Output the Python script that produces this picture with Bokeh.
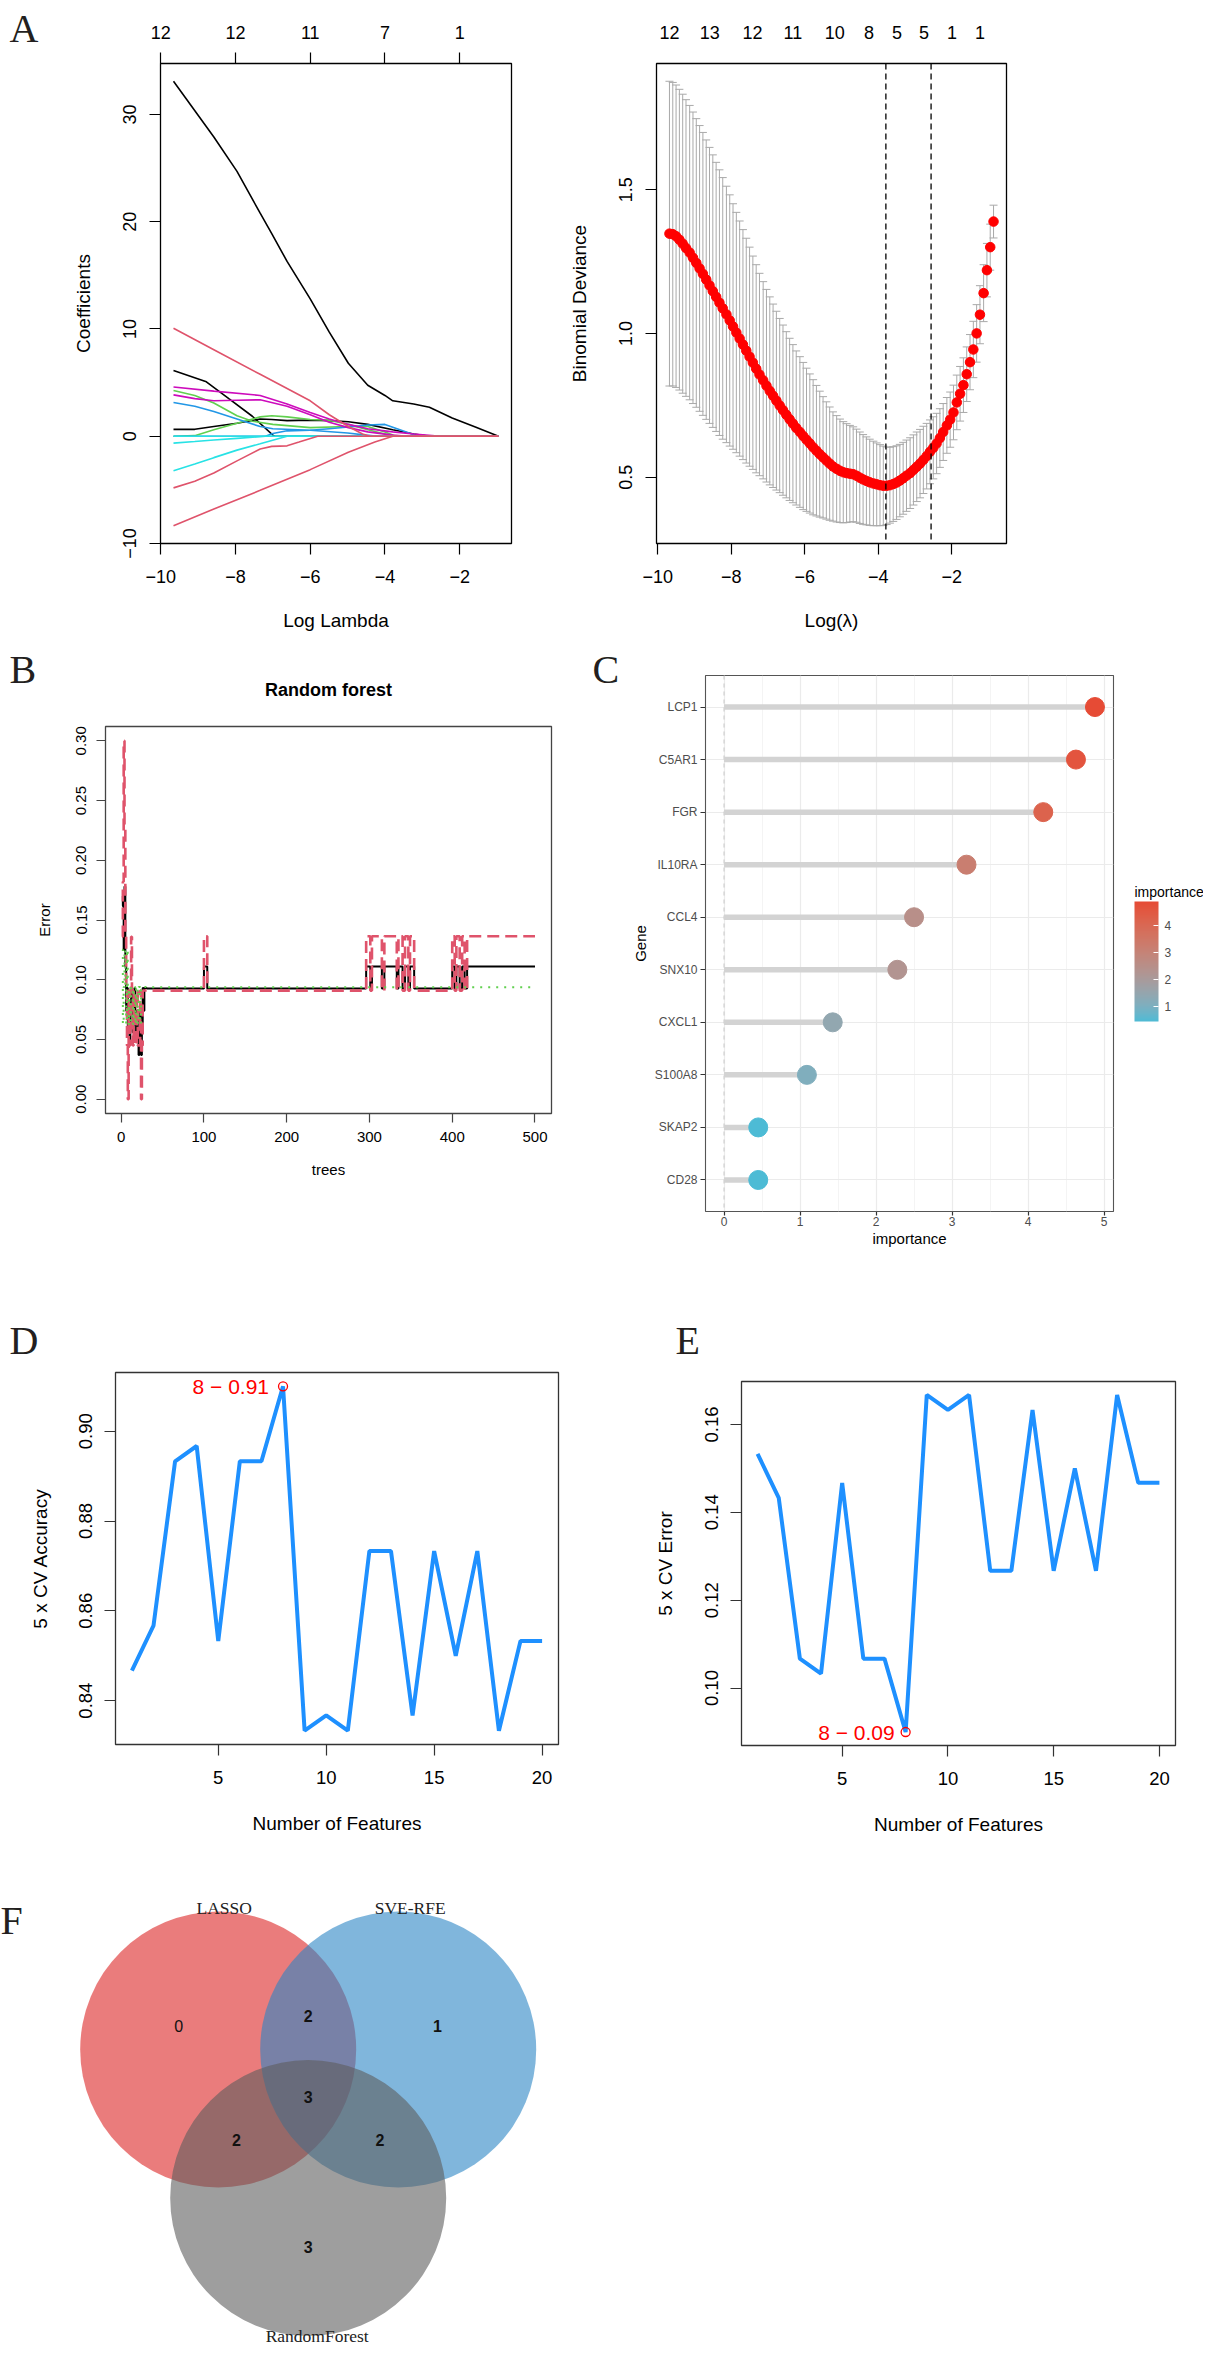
import numpy as np
from bokeh.plotting import figure
from bokeh.models import (Range1d, LinearAxis, FixedTicker, Whisker, TeeHead,
                          ColumnDataSource, ColorBar, LinearColorMapper, Span,
                          PrintfTickFormatter)
from bokeh.layouts import row, column
from bokeh.embed import file_html
from bokeh.resources import INLINE
from bokeh.core.properties import value

SANS = "Liberation Sans"
SERIF = "Liberation Serif"

# ====================== DATA ======================
# ---- A (left): LASSO coefficient paths (log lambda, coefficient) ----
coef_top_ticks = [-10, -8, -6, -4, -2]
coef_top_labels = ["12", "12", "11", "7", "1"]

pK1_x = [-9.66, -8.58, -7.96, -7.34, -7.03, -6.62, -6.00, -5.49, -4.98, -4.46, -4.00, -3.79, -3.23, -2.81, -2.20, -1.58, -0.96]
pK1_y = [33.1, 27.9, 24.7, 20.8, 18.9, 16.3, 12.8, 9.7, 6.8, 4.75, 3.8, 3.3, 3.0, 2.7, 1.7, 0.85, 0.0]
pK2_x = [-9.66, -8.78, -8.17, -7.55, -7.00, -6.95, -0.96]
pK2_y = [6.13, 5.07, 3.47, 1.86, 0.1, 0.0, 0.0]
pK3_x = [-9.66, -9.09, -8.58, -7.96, -7.34, -7.03, -6.62, -6.00, -5.49, -4.98, -4.46, -3.79, -3.23, -2.80, -0.96]
pK3_y = [0.64, 0.64, 0.9, 1.2, 1.6, 1.55, 1.45, 1.5, 1.45, 1.35, 1.1, 0.6, 0.2, 0.0, 0.0]
pG1_x = [-9.66, -9.09, -8.58, -7.96, -7.55, -7.00, -6.00, -4.98, -4.46, -4.00, -3.70, -0.96]
pG1_y = [4.27, 3.8, 3.1, 1.9, 1.4, 1.1, 0.8, 0.9, 0.9, 0.4, 0.0, 0.0]
pG2_x = [-9.66, -9.09, -8.58, -7.96, -7.34, -7.03, -6.62, -6.00, -5.49, -4.98, -4.46, -4.00, -3.80, -0.96]
pG2_y = [0.0, 0.05, 0.6, 1.2, 1.8, 1.9, 1.8, 1.55, 1.5, 1.1, 0.6, 0.2, 0.0, 0.0]
pB1_x = [-9.66, -9.09, -8.58, -7.96, -7.34, -7.00, -6.00, -5.00, -4.50, -4.20, -0.96]
pB1_y = [3.14, 2.8, 2.3, 1.6, 0.9, 0.7, 0.55, 0.3, 0.1, 0.0, 0.0]
pB2_x = [-9.66, -7.20, -7.00, -6.62, -6.00, -5.49, -4.98, -4.46, -4.00, -3.60, -3.20, -3.00, -0.96]
pB2_y = [0.0, 0.0, 0.25, 0.5, 0.55, 0.7, 0.85, 1.05, 1.1, 0.6, 0.1, 0.0, 0.0]
pM1_x = [-9.66, -8.58, -7.34, -6.62, -6.00, -5.49, -4.98, -4.46, -3.79, -3.23, -2.50, -0.96]
pM1_y = [4.59, 4.2, 3.8, 3.0, 2.2, 1.6, 1.1, 0.7, 0.4, 0.2, 0.0, 0.0]
pM2_x = [-9.66, -9.09, -8.58, -7.96, -7.34, -6.62, -6.00, -5.49, -4.98, -4.46, -3.79, -3.40, -0.96]
pM2_y = [3.85, 3.5, 3.3, 3.35, 3.4, 2.8, 2.0, 1.3, 0.8, 0.4, 0.1, 0.0, 0.0]
pC1_x = [-9.66, -9.09, -8.58, -7.96, -7.34, -7.20, -0.96]
pC1_y = [-0.65, -0.5, -0.35, -0.2, -0.05, 0.0, 0.0]
pC2_x = [-9.66, -9.09, -8.58, -7.96, -7.34, -6.62, -0.96]
pC2_y = [-3.22, -2.6, -2.0, -1.3, -0.71, 0.0, 0.0]
pC3_x = [-9.66, -0.96]
pC3_y = [0.0, 0.0]
pR1_x = [-9.66, -8.58, -7.34, -6.00, -5.49, -4.98, -4.60, -4.40, -0.96]
pR1_y = [10.06, 8.06, 5.77, 3.3, 2.0, 0.9, 0.2, 0.0, 0.0]
pR2_x = [-9.66, -9.09, -8.58, -7.96, -7.34, -7.03, -6.62, -6.30, -5.80, -0.96]
pR2_y = [-4.82, -4.2, -3.44, -2.3, -1.2, -0.95, -0.9, -0.55, 0.0, 0.0]
pR3_x = [-9.66, -8.58, -7.34, -6.00, -4.98, -4.27, -3.79, -0.96]
pR3_y = [-8.35, -6.8, -5.05, -3.12, -1.5, -0.55, 0.0, 0.0]

# ---- A (right): cross-validated binomial deviance ----
cv_lam = [-9.68, -9.59, -9.50, -9.41, -9.32, -9.23, -9.13, -9.04, -8.95, -8.86,
          -8.77, -8.68, -8.59, -8.50, -8.41, -8.32, -8.23, -8.13, -8.04, -7.95,
          -7.86, -7.77, -7.68, -7.59, -7.50, -7.41, -7.32, -7.23, -7.13, -7.04,
          -6.95, -6.86, -6.77, -6.68, -6.59, -6.50, -6.41, -6.32, -6.23, -6.13,
          -6.04, -5.95, -5.86, -5.77, -5.68, -5.59, -5.50, -5.41, -5.32, -5.23,
          -5.13, -5.04, -4.95, -4.86, -4.77, -4.68, -4.59, -4.50, -4.41, -4.32,
          -4.23, -4.13, -4.04, -3.95, -3.86, -3.77, -3.68, -3.59, -3.50, -3.41,
          -3.32, -3.23, -3.13, -3.04, -2.95, -2.86, -2.77, -2.68, -2.59, -2.50,
          -2.41, -2.32, -2.23, -2.13, -2.04, -1.95, -1.86, -1.77, -1.68, -1.59,
          -1.50, -1.41, -1.32, -1.23, -1.13, -1.04, -0.95, -0.86]
cv_mean = [1.347, 1.345, 1.338, 1.326, 1.312, 1.297, 1.281, 1.263, 1.245, 1.226,
           1.207, 1.187, 1.167, 1.147, 1.127, 1.107, 1.087, 1.066, 1.045, 1.024,
           1.003, 0.982, 0.961, 0.940, 0.919, 0.898, 0.877, 0.857, 0.837, 0.818,
           0.800, 0.783, 0.766, 0.749, 0.733, 0.717, 0.701, 0.686, 0.671, 0.657,
           0.643, 0.630, 0.617, 0.604, 0.592, 0.580, 0.569, 0.558, 0.547, 0.537,
           0.529, 0.522, 0.517, 0.514, 0.512, 0.510, 0.505, 0.498, 0.492, 0.487,
           0.482, 0.478, 0.475, 0.472, 0.470, 0.470, 0.472, 0.476, 0.481, 0.488,
           0.496, 0.505, 0.514, 0.525, 0.536, 0.547, 0.560, 0.573, 0.588, 0.602,
           0.617, 0.636, 0.657, 0.680, 0.700, 0.725, 0.760, 0.790, 0.820, 0.858,
           0.900, 0.944, 1.000, 1.065, 1.140, 1.220, 1.300, 1.389]
cv_sd = [0.530, 0.528, 0.526, 0.523, 0.520, 0.516, 0.512, 0.507, 0.502, 0.497,
         0.492, 0.486, 0.480, 0.474, 0.468, 0.462, 0.455, 0.446, 0.437, 0.427,
         0.418, 0.409, 0.400, 0.391, 0.381, 0.371, 0.362, 0.352, 0.343, 0.335,
         0.327, 0.319, 0.311, 0.303, 0.296, 0.289, 0.282, 0.275, 0.268, 0.262,
         0.256, 0.249, 0.242, 0.235, 0.227, 0.219, 0.211, 0.204, 0.197, 0.190,
         0.185, 0.180, 0.176, 0.172, 0.168, 0.165, 0.162, 0.159, 0.156, 0.153,
         0.150, 0.147, 0.144, 0.141, 0.138, 0.135, 0.132, 0.130, 0.128, 0.126,
         0.125, 0.124, 0.123, 0.122, 0.121, 0.119, 0.117, 0.114, 0.111, 0.108,
         0.105, 0.102, 0.099, 0.097, 0.096, 0.095, 0.095, 0.095, 0.095, 0.095,
         0.096, 0.098, 0.100, 0.101, 0.099, 0.093, 0.080, 0.057]
cv_top_pos = [-9.68, -8.58, -7.42, -6.32, -5.18, -4.25, -3.49, -2.75, -1.99, -1.23]
cv_top_labels = ["12", "13", "12", "11", "10", "8", "5", "5", "1", "1"]
lambda_min_log = -3.79
lambda_1se_log = -2.56

# ---- B: random forest error rates (step series) ----
rf_early_trees = list(range(1, 31))
rf_oob_early = [0.162, 0.170, 0.125, 0.178, 0.111, 0.074, 0.093, 0.056, 0.065, 0.046,
                0.074, 0.093, 0.074, 0.056, 0.074, 0.093, 0.074, 0.056, 0.074, 0.056,
                0.037, 0.056, 0.074, 0.037, 0.056, 0.093, 0.074, 0.093, 0.093, 0.093]
rf_red_early = [0.136, 0.182, 0.300, 0.227, 0.136, 0.091, 0.045, 0.000, 0.091, 0.045,
                0.091, 0.136, 0.091, 0.045, 0.091, 0.091, 0.045, 0.045, 0.091, 0.045,
                0.045, 0.045, 0.091, 0.000, 0.045, 0.091, 0.091, 0.091, 0.091, 0.091]
rf_green_early = [0.125, 0.063, 0.094, 0.125, 0.094, 0.063, 0.125, 0.094, 0.063, 0.094,
                  0.063, 0.094, 0.094, 0.063, 0.094, 0.094, 0.063, 0.094, 0.094, 0.063,
                  0.094, 0.094, 0.063, 0.094, 0.094, 0.094, 0.094, 0.094, 0.094, 0.094]
rf_late_trees = [31, 100, 104, 296, 301, 303, 315, 318, 333, 335, 340, 343, 347, 349, 354,
                 400, 403, 405, 409, 412, 415, 418, 500]
rf_oob_late = [0.0926, 0.1111, 0.0926, 0.1111, 0.0926, 0.1111, 0.0926, 0.1111, 0.0926, 0.1111,
               0.0926, 0.1111, 0.0926, 0.1111, 0.0926, 0.1111, 0.0926, 0.1111, 0.0926, 0.1111,
               0.0926, 0.1111, 0.1111]
rf_red_late = [0.0909, 0.1364, 0.0909, 0.1364, 0.0909, 0.1364, 0.0909, 0.1364, 0.0909, 0.1364,
               0.0909, 0.1364, 0.0909, 0.1364, 0.0909, 0.1364, 0.0909, 0.1364, 0.0909, 0.1364,
               0.0909, 0.1364, 0.1364]
rf_green_late_trees = [31, 500]
rf_green_late = [0.0938, 0.0938]

# ---- C: gene importance ----
genes = ["LCP1", "C5AR1", "FGR", "IL10RA", "CCL4", "SNX10", "CXCL1", "S100A8", "SKAP2", "CD28"]
importance = [4.88, 4.63, 4.20, 3.19, 2.50, 2.28, 1.43, 1.09, 0.45, 0.45]

# ---- D / E: SVM-RFE cross-validation ----
n_features = list(range(1, 21))
cv_accuracy = [0.8467, 0.8567, 0.8933, 0.8967, 0.8533, 0.8933, 0.8933, 0.9100, 0.8333, 0.8367,
               0.8333, 0.8733, 0.8733, 0.8367, 0.8733, 0.8500, 0.8733, 0.8333, 0.8533, 0.8533]
cv_error = [0.1533, 0.1433, 0.1067, 0.1033, 0.1467, 0.1067, 0.1067, 0.0900, 0.1667, 0.1633,
            0.1667, 0.1267, 0.1267, 0.1633, 0.1267, 0.1500, 0.1267, 0.1667, 0.1467, 0.1467]

# ---- F: Venn ----
venn_sets = ["LASSO", "SVE-RFE", "RandomForest"]
venn_regions = [(1, 0, 0), (0, 1, 0), (0, 0, 1), (1, 1, 0), (1, 0, 1), (0, 1, 1), (1, 1, 1)]
venn_counts = [0, 1, 3, 2, 2, 2, 3]
venn_colors = ["#DC2525", "#2B85C5", "#5D5D5D"]


# ====================== HELPERS ======================
def rpad(lo, hi, f=0.04):
    d = (hi - lo) * f
    return lo - d, hi + d


def base_fig(w, h, bl, br, bt, bb, xr, yr, **kw):
    p = figure(width=w, height=h, frame_width=w - bl - br, frame_height=h - bt - bb,
               min_border_left=bl, min_border_right=br, min_border_top=bt, min_border_bottom=bb,
               x_range=xr, y_range=yr, output_backend="svg", toolbar_location=None, **kw)
    p.background_fill_color = "white"
    p.border_fill_color = "white"
    return p


def blank_fig(w, h):
    s = figure(width=w, height=h, frame_width=w, frame_height=h, min_border=0,
               x_range=Range1d(0, w), y_range=Range1d(0, h),
               x_axis_location=None, y_axis_location=None,
               output_backend="svg", toolbar_location=None)
    s.grid.visible = False
    s.outline_line_color = None
    s.background_fill_color = "white"
    s.border_fill_color = "white"
    return s


def iso(p):
    # wrap a figure on its own so that layouts do not align its borders with neighbours
    return column(p)


def put_letter(s, txt, x, y, baseline="alphabetic"):
    s.text(x=[x], y=[y], text=[txt], text_font=value(SERIF), text_font_size="40px",
           text_color="#231F20", text_baseline=baseline, text_align="left")


def style_axis(ax, tick_fs, lab_fs, tick_len, st, lst, tick_color="black", lab_color="black"):
    ax.axis_line_color = None
    ax.major_tick_out = tick_len
    ax.major_tick_in = 0
    ax.minor_tick_line_color = None
    ax.major_tick_line_color = tick_color
    ax.major_tick_line_width = 1.2
    ax.major_label_text_font = SANS
    ax.major_label_text_font_size = tick_fs
    ax.major_label_text_color = lab_color
    ax.major_label_standoff = st
    ax.axis_label_text_font = SANS
    ax.axis_label_text_font_size = lab_fs
    ax.axis_label_text_font_style = "normal"
    ax.axis_label_text_color = "black"
    ax.axis_label_standoff = lst


def style_r(p, tick_fs, lab_fs, tick_len, xs, xls, ys, yls, box="black"):
    p.grid.visible = False
    p.outline_line_color = box
    p.outline_line_width = 1.3
    style_axis(p.below[0], tick_fs, lab_fs, tick_len, xs, xls, tick_color=box)
    style_axis(p.left[0], tick_fs, lab_fs, tick_len, ys, yls, tick_color=box)
    p.left[0].major_label_orientation = "vertical"


def minus(v):
    return ("−" + str(abs(v))) if v < 0 else str(v)


# ====================== ROW 1: A ======================
stripA = blank_fig(42, 642)
put_letter(stripA, "A", 9, 614)

paths = [(pK1_x, pK1_y, "#000000"), (pK2_x, pK2_y, "#000000"), (pK3_x, pK3_y, "#000000"),
         (pG1_x, pG1_y, "#61D04F"), (pG2_x, pG2_y, "#61D04F"),
         (pB1_x, pB1_y, "#2297E6"), (pB2_x, pB2_y, "#2297E6"),
         (pM1_x, pM1_y, "#CD0BBC"), (pM2_x, pM2_y, "#CD0BBC"),
         (pC1_x, pC1_y, "#28E2E5"), (pC2_x, pC2_y, "#28E2E5"), (pC3_x, pC3_y, "#28E2E5"),
         (pR1_x, pR1_y, "#DF536B"), (pR2_x, pR2_y, "#DF536B"), (pR3_x, pR3_y, "#DF536B")]
all_px = [v for px, _, _ in paths for v in px]
all_py = [v for _, py, _ in paths for v in py]
pa1 = base_fig(490, 642, 118, 21, 63, 99,
               Range1d(*rpad(min(all_px), max(all_px))), Range1d(*rpad(min(all_py), max(all_py))))
for px, py, col in paths:
    pa1.line(px, py, line_color=col, line_width=1.6)
pa1.xaxis.axis_label = "Log Lambda"
pa1.yaxis.axis_label = "Coefficients"
style_r(pa1, "18px", "19px", 11, 15, 24, 13, 27)
pa1.below[0].ticker = FixedTicker(ticks=coef_top_ticks)
pa1.below[0].major_label_overrides = {t: minus(t) for t in coef_top_ticks}
yt = [-10, 0, 10, 20, 30]
pa1.left[0].ticker = FixedTicker(ticks=yt)
pa1.left[0].major_label_overrides = {t: minus(t) for t in yt}
top1 = LinearAxis(ticker=FixedTicker(ticks=coef_top_ticks),
                  major_label_overrides={t: l for t, l in zip(coef_top_ticks, coef_top_labels)})
style_axis(top1, "18px", "19px", 11, 14, 0)
pa1.add_layout(top1, "above")

upper = [m + s for m, s in zip(cv_mean, cv_sd)]
lower = [m - s for m, s in zip(cv_mean, cv_sd)]
src_cv = ColumnDataSource(dict(x=cv_lam, mean=cv_mean, upper=upper, lower=lower))
pa2 = base_fig(667, 642, 124, 193, 63, 99,
               Range1d(*rpad(min(cv_lam), max(cv_lam))), Range1d(*rpad(min(lower), max(upper))))
wh = Whisker(source=src_cv, base="x", upper="upper", lower="lower", dimension="height",
             line_color="#A9A9A9", line_width=1, level="underlay",
             upper_head=TeeHead(size=8, line_color="#A9A9A9", line_width=1),
             lower_head=TeeHead(size=8, line_color="#A9A9A9", line_width=1))
pa2.add_layout(wh)
pa2.scatter("x", "mean", source=src_cv, size=9.5, color="#FF0000")
for loc in (lambda_min_log, lambda_1se_log):
    pa2.add_layout(Span(location=loc, dimension="height", line_color="black",
                        line_dash="6 4", line_width=1.3))
pa2.xaxis.axis_label = "Log(λ)"
pa2.yaxis.axis_label = "Binomial Deviance"
style_r(pa2, "18px", "19px", 11, 15, 24, 13, 27)
pa2.below[0].ticker = FixedTicker(ticks=coef_top_ticks)
pa2.below[0].major_label_overrides = {t: minus(t) for t in coef_top_ticks}
pa2.left[0].ticker = FixedTicker(ticks=[0.5, 1.0, 1.5])
pa2.left[0].formatter = PrintfTickFormatter(format="%.1f")
top2 = LinearAxis(ticker=FixedTicker(ticks=cv_top_pos),
                  major_label_overrides={t: l for t, l in zip(cv_top_pos, cv_top_labels)})
style_axis(top2, "18px", "19px", 0, 25, 0)
top2.major_tick_line_color = None
pa2.add_layout(top2, "above")

# ====================== ROW 2: B, C ======================
stripB = blank_fig(582, 65)
put_letter(stripB, "B", 9, 38)
stripB.text(x=[328], y=[18], text=["Random forest"], text_font=value(SANS),
            text_font_size="18px", text_font_style="bold", text_color="black",
            text_align="center", text_baseline="middle")

oob_x = rf_early_trees + rf_late_trees
oob_y = rf_oob_early + rf_oob_late
red_x = rf_early_trees + rf_late_trees
red_y = rf_red_early + rf_red_late
grn_x = rf_early_trees + rf_green_late_trees
grn_y = rf_green_early + rf_green_late
pb = base_fig(582, 585, 105, 31, 19, 179,
              Range1d(*rpad(1, 500)), Range1d(*rpad(0, max(red_y))))
pb.step(oob_x, oob_y, mode="after", line_color="black", line_width=2)
pb.step(red_x, red_y, mode="after", line_color="#DF536B", line_width=2.6, line_dash="12 6")
pb.step(grn_x, grn_y, mode="after", line_color="#61D04F", line_width=2, line_dash="2 6")
pb.xaxis.axis_label = "trees"
pb.yaxis.axis_label = "Error"
style_r(pb, "15px", "15px", 9, 9, 16, 10, 21, box="#444444")
pb.below[0].ticker = FixedTicker(ticks=[0, 100, 200, 300, 400, 500])
pb.below[0].formatter = PrintfTickFormatter(format="%d")
pb.left[0].ticker = FixedTicker(ticks=[0.0, 0.05, 0.10, 0.15, 0.20, 0.25, 0.30])
pb.left[0].formatter = PrintfTickFormatter(format="%.2f")


def _to_lab(h):
    rgb = [int(h[i:i + 2], 16) / 255 for i in (1, 3, 5)]
    lin = [c / 12.92 if c <= 0.04045 else ((c + 0.055) / 1.055) ** 2.4 for c in rgb]
    X = (0.4124 * lin[0] + 0.3576 * lin[1] + 0.1805 * lin[2]) / 0.95047
    Y = (0.2126 * lin[0] + 0.7152 * lin[1] + 0.0722 * lin[2])
    Z = (0.0193 * lin[0] + 0.1192 * lin[1] + 0.9505 * lin[2]) / 1.08883
    f = lambda t: t ** (1 / 3) if t > 0.008856 else 7.787 * t + 16 / 116
    fx, fy, fz = f(X), f(Y), f(Z)
    return 116 * fy - 16, 500 * (fx - fy), 200 * (fy - fz)


def _from_lab(L, a, b):
    fy = (L + 16) / 116
    fx = fy + a / 500
    fz = fy - b / 200
    finv = lambda t: t ** 3 if t ** 3 > 0.008856 else (t - 16 / 116) / 7.787
    X, Y, Z = finv(fx) * 0.95047, finv(fy), finv(fz) * 1.08883
    lin = [3.2406 * X - 1.5372 * Y - 0.4986 * Z,
           -0.9689 * X + 1.8758 * Y + 0.0415 * Z,
           0.0557 * X - 0.2040 * Y + 1.0570 * Z]
    out = []
    for c in lin:
        c = max(0.0, c)
        c = 12.92 * c if c <= 0.0031308 else 1.055 * c ** (1 / 2.4) - 0.055
        out.append(int(min(255, max(0, round(c * 255)))))
    return "#%02x%02x%02x" % tuple(out)


lo_lab, hi_lab = _to_lab("#4DBBD5"), _to_lab("#E64B35")
palette = [_from_lab(*[lo_lab[k] + (hi_lab[k] - lo_lab[k]) * t / 255 for k in range(3)])
           for t in range(256)]
mapper = LinearColorMapper(palette=palette, low=min(importance), high=max(importance))

stripC = blank_fig(46, 650)
put_letter(stripC, "C", 10, 623)

ng = len(genes)
gy = [ng - 1 - i for i in range(ng)]
src_c = ColumnDataSource(dict(y=gy, imp=importance, zero=[0] * ng))
pc = base_fig(483, 650, 73, 2, 33, 81,
              Range1d(*rpad(0, max(importance), 0.05)), Range1d(-0.6, ng - 1 + 0.6))
pc.outline_line_color = "#555555"
pc.outline_line_width = 1.1
pc.add_layout(Span(location=0, dimension="height", line_color="#C8C8C8",
                   line_dash="4 4", line_width=1, level="underlay"))
pc.segment(x0="zero", y0="y", x1="imp", y1="y", source=src_c, line_color="#D3D3D3", line_width=5.5)
pc.scatter("imp", "y", source=src_c, size=19,
           fill_color={"field": "imp", "transform": mapper},
           line_color={"field": "imp", "transform": mapper})
pc.xaxis.axis_label = "importance"
pc.yaxis.axis_label = "Gene"
style_axis(pc.below[0], "12px", "15px", 4, 1, 1, tick_color="#333333", lab_color="#4D4D4D")
style_axis(pc.left[0], "12px", "15px", 5, 3, 3, tick_color="#333333", lab_color="#4D4D4D")
pc.below[0].ticker = FixedTicker(ticks=[0, 1, 2, 3, 4, 5], minor_ticks=[0.5, 1.5, 2.5, 3.5, 4.5])
pc.below[0].formatter = PrintfTickFormatter(format="%d")
pc.left[0].ticker = FixedTicker(ticks=gy)
pc.left[0].major_label_overrides = {yy: g for yy, g in zip(gy, genes)}
pc.xgrid.grid_line_color = "#EBEBEB"
pc.xgrid.grid_line_width = 1.2
pc.xgrid.minor_grid_line_color = "#EFEFEF"
pc.xgrid.minor_grid_line_width = 0.7
pc.ygrid.grid_line_color = "#EBEBEB"
pc.ygrid.grid_line_width = 1.2

legC = blank_fig(88, 650)
legC.text(x=[19], y=[401], text=["importance"], text_font=value(SANS), text_font_size="14px",
          text_color="black", text_align="left", text_baseline="alphabetic")
cb = ColorBar(color_mapper=mapper, ticker=FixedTicker(ticks=[1, 2, 3, 4]),
              formatter=PrintfTickFormatter(format="%d"), width=24, height=120,
              major_label_text_font=SANS, major_label_text_font_size="12px",
              major_label_text_color="#4D4D4D", major_tick_line_color="white",
              major_tick_in=5, major_tick_out=0, minor_tick_line_color=None,
              bar_line_color=None, border_line_color=None, background_fill_color=None,
              location=(19, 271), margin=0, padding=0, label_standoff=6)
legC.add_layout(cb, "center")

# ====================== ROW 3: D, E ======================
stripD = blank_fig(622, 78)
put_letter(stripD, "D", 9, 30, baseline="middle")
stripE = blank_fig(577, 78)
put_letter(stripE, "E", 53, 30, baseline="middle")

pdd = base_fig(622, 502, 115, 64, 2, 128,
               Range1d(*rpad(min(n_features), max(n_features))),
               Range1d(*rpad(min(cv_accuracy), max(cv_accuracy))))
pdd.line(n_features, cv_accuracy, line_color="#1E90FF", line_width=4)
best_i = int(np.argmax(cv_accuracy))
pdd.scatter([n_features[best_i]], [cv_accuracy[best_i]], size=9, fill_color=None,
            line_color="#FF0000", line_width=1.3)
pdd.text([n_features[best_i]], [cv_accuracy[best_i]],
         text=[f"{n_features[best_i]} − {cv_accuracy[best_i]:.2f}"],
         text_font=value(SANS), text_font_size="21px", text_color="#FF0000",
         text_align="right", text_baseline="middle", x_offset=-14)
pdd.xaxis.axis_label = "Number of Features"
pdd.yaxis.axis_label = "5 x CV Accuracy"
style_r(pdd, "18.5px", "19px", 11, 15, 26, 12, 26, box="#333333")
pdd.below[0].ticker = FixedTicker(ticks=[5, 10, 15, 20])
pdd.left[0].ticker = FixedTicker(ticks=[0.84, 0.86, 0.88, 0.90])
pdd.left[0].formatter = PrintfTickFormatter(format="%.2f")

pe = base_fig(577, 502, 119, 24, 11, 127,
              Range1d(*rpad(min(n_features), max(n_features))),
              Range1d(*rpad(min(cv_error), max(cv_error))))
pe.line(n_features, cv_error, line_color="#1E90FF", line_width=4)
best_e = int(np.argmin(cv_error))
pe.scatter([n_features[best_e]], [cv_error[best_e]], size=9, fill_color=None,
           line_color="#FF0000", line_width=1.3)
pe.text([n_features[best_e]], [cv_error[best_e]],
        text=[f"{n_features[best_e]} − {cv_error[best_e]:.2f}"],
        text_font=value(SANS), text_font_size="21px", text_color="#FF0000",
        text_align="right", text_baseline="middle", x_offset=-11)
pe.xaxis.axis_label = "Number of Features"
pe.yaxis.axis_label = "5 x CV Error"
style_r(pe, "18.5px", "19px", 11, 15, 26, 12, 27, box="#333333")
pe.below[0].ticker = FixedTicker(ticks=[5, 10, 15, 20])
pe.left[0].ticker = FixedTicker(ticks=[0.10, 0.12, 0.14, 0.16])
pe.left[0].formatter = PrintfTickFormatter(format="%.2f")

# ====================== ROW 4: F (Venn) ======================
FW, FH = 622, 474
pf = blank_fig(FW, FH)
VENN_R = 138
V_MID_X, V_TOP_Y, V_HALF_SEP, V_DROP = 307.7, 297, 90, 148.5
vcx = [V_MID_X - V_HALF_SEP, V_MID_X + V_HALF_SEP, V_MID_X]
vcy = [V_TOP_Y, V_TOP_Y, V_TOP_Y - V_DROP]
pf.circle(x=vcx, y=vcy, radius=VENN_R, fill_color=venn_colors, fill_alpha=0.6, line_color=None)

gx, gyy = np.meshgrid(np.arange(0, FW, 2.0), np.arange(0, FH, 2.0))
inside = [((gx - cx) ** 2 + (gyy - cy) ** 2) <= VENN_R ** 2 for cx, cy in zip(vcx, vcy)]
lab_x, lab_y, lab_t, lab_s = [], [], [], []
for key, cnt in zip(venn_regions, venn_counts):
    m = np.ones_like(gx, dtype=bool)
    for k in range(3):
        m &= inside[k] if key[k] else ~inside[k]
    lab_x.append(float(gx[m].mean()))
    lab_y.append(float(gyy[m].mean()))
    lab_t.append(str(cnt))
    lab_s.append("normal" if cnt == 0 else "bold")
src_v = ColumnDataSource(dict(x=lab_x, y=lab_y, t=lab_t, s=lab_s))
pf.text("x", "y", text="t", source=src_v, text_font=value(SANS), text_font_size="16px",
        text_font_style={"field": "s"}, text_color="#111111",
        text_align="center", text_baseline="middle")
cat_dx = [6, 12, 9]
pf.text(x=[vcx[0] + cat_dx[0], vcx[1] + cat_dx[1]],
        y=[V_TOP_Y + VENN_R + 4, V_TOP_Y + VENN_R + 4],
        text=venn_sets[:2], text_font=value(SERIF), text_font_size="17.5px",
        text_color="#222222", text_align="center", text_baseline="alphabetic")
pf.text(x=[vcx[2] + cat_dx[2]], y=[1], text=venn_sets[2:], text_font=value(SERIF),
        text_font_size="17.5px", text_color="#222222", text_align="center",
        text_baseline="bottom")
put_letter(pf, "F", 0, 426)

layout = column(
    row(iso(stripA), iso(pa1), iso(pa2)),
    row(column(iso(stripB), iso(pb)), iso(stripC), iso(pc), iso(legC)),
    row(column(iso(stripD), iso(pdd)), column(iso(stripE), iso(pe))),
    iso(pf),
)
open("out.html", "w").write(file_html(layout, INLINE, "figure"))
